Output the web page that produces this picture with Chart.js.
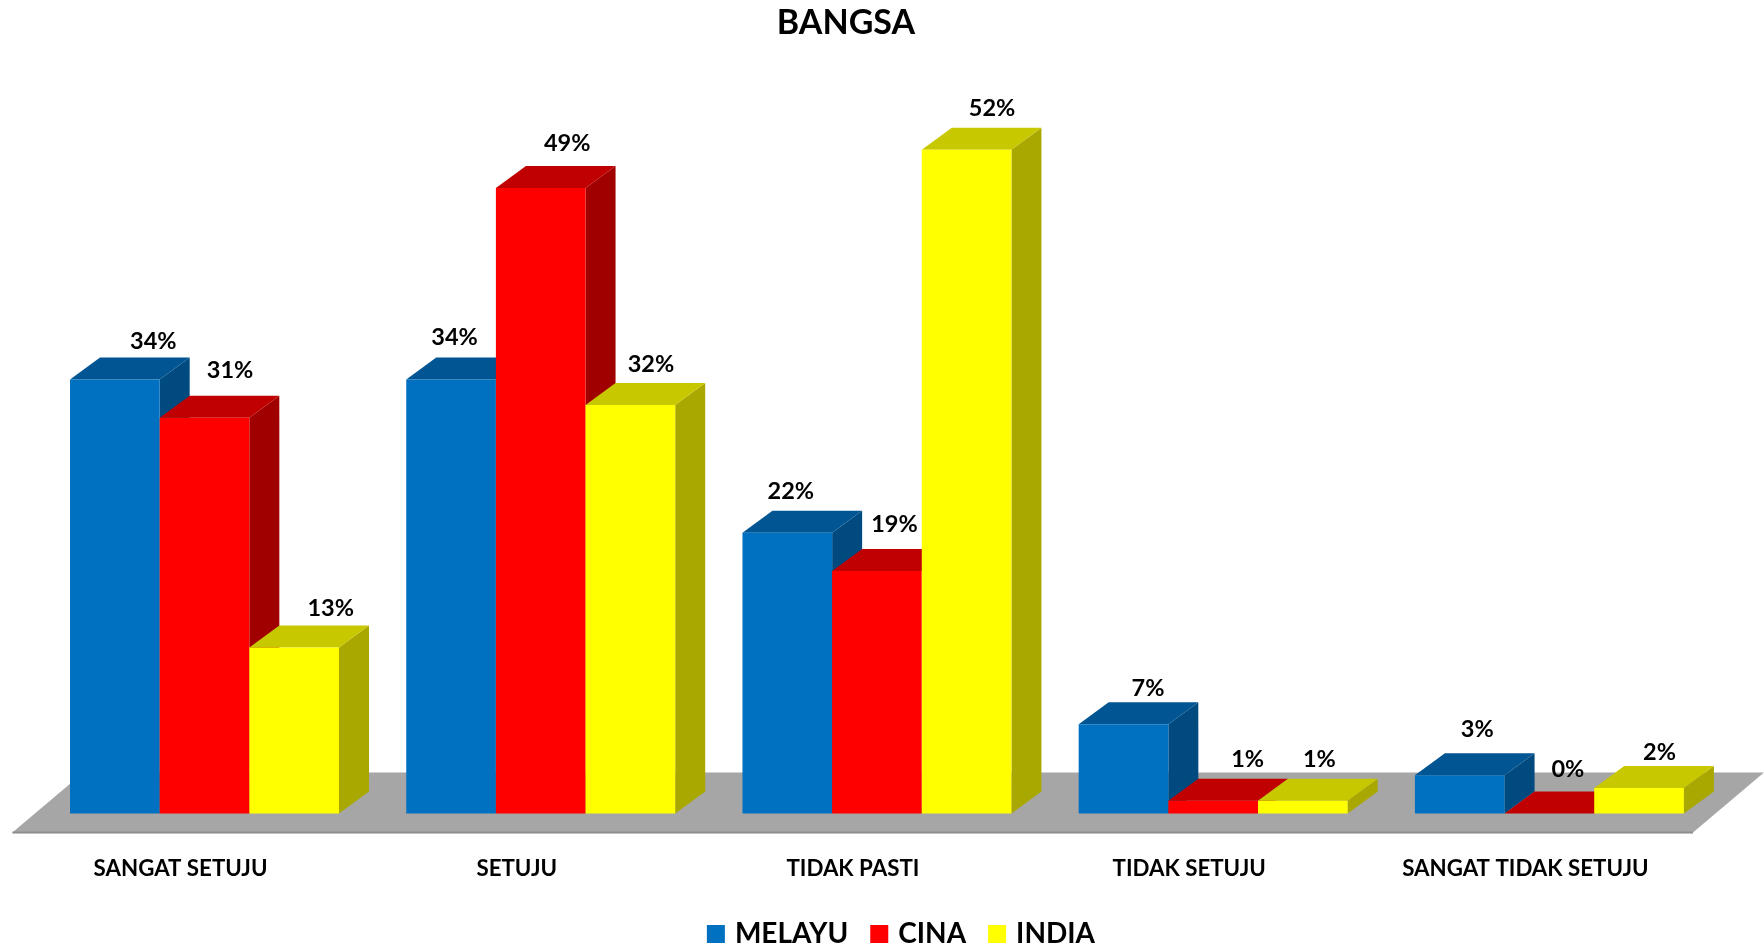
<!DOCTYPE html>
<html>
<head>
<meta charset="utf-8">
<style>
html,body{margin:0;padding:0;background:#fff}
#wrap{width:1764px;height:948px;position:relative}
</style>
<script src="https://cdn.jsdelivr.net/npm/chart.js@4"></script>
</head>
<body>
<div id="wrap"><canvas id="c" width="1764" height="948"></canvas></div>
<script>
const categories = ["SANGAT SETUJU", "SETUJU", "TIDAK PASTI", "TIDAK SETUJU", "SANGAT TIDAK SETUJU"];
const melayu = [34, 34, 22, 7, 3];
const cina = [31, 49, 19, 1, 0];
const india = [13, 32, 52, 1, 2];

const FONT = "Lato, 'Open Sans', sans-serif";
const DEPTH_X = 30, DEPTH_Y = 22;
const faces = [
  {front: "#0070C0", top: "#005592", side: "#004A80"},
  {front: "#FF0000", top: "#C00000", side: "#A00000"},
  {front: "#FFFF00", top: "#C8C800", side: "#A8A800"}
];
// Hand placement of the value labels relative to each bar's top centre [dx, dy], per series then category
const labelNudge = [
  [[38.5,-38],[3.5,-42],[3.5,-41],[24.5,-36],[17.5,-46]],
  [[25.5,-47],[26.5,-45],[17.5,-47],[34.5,-41],[18.5,-44]],
  [[36.5,-39],[20.5,-41],[25.5,-41],[16.5,-41],[20.5,-36]]
];

function poly(ctx, pts, fill){
  ctx.beginPath();
  pts.forEach((p,i)=> i ? ctx.lineTo(p[0],p[1]) : ctx.moveTo(p[0],p[1]));
  ctx.closePath();
  ctx.fillStyle = fill;
  ctx.fill();
}

const bars3d = {
  id: "bars3d",
  afterLayout(chart){
    chart.titleBlock.left -= 31; chart.titleBlock.right -= 31;
    chart.titleBlock.top += 1; chart.titleBlock.bottom += 1;
    chart.legend.left += 24; chart.legend.right += 24;
    chart.legend.top += 10; chart.legend.bottom += 10;
  },
  beforeDatasetsDraw(chart){
    const ctx = chart.ctx, a = chart.chartArea;
    const base = chart.scales.y.getPixelForValue(0);
    const fl = a.left - 24, fr = a.right - 24.5;
    ctx.save();
    poly(ctx, [[fl, base+19],[fr, base+19],[fr+71, base-41],[fl+71, base-41]], "#A6A6A6");
    ctx.fillStyle = "#8E8E8E";
    ctx.fillRect(fl, base+18, fr-fl, 2);
    ctx.restore();
    ctx.save();
    chart.data.datasets.forEach((ds, d)=>{
      const meta = chart.getDatasetMeta(d);
      meta.data.forEach((el)=>{
        const l = el.x - el.width/2, r = el.x + el.width/2, t = el.y, b = el.base;
        if (b - t > 0) poly(ctx, [[r,t],[r+DEPTH_X,t-DEPTH_Y],[r+DEPTH_X,b-DEPTH_Y],[r,b]], faces[d].side);
        poly(ctx, [[l,t],[l+DEPTH_X,t-DEPTH_Y],[r+DEPTH_X,t-DEPTH_Y],[r,t]], faces[d].top);
        el.draw(ctx, a);
      });
    });
    ctx.restore();
  },
  beforeDatasetDraw(){ return false; },
  afterDatasetsDraw(chart){
    const ctx = chart.ctx;
    ctx.save();
    ctx.font = "bold 23.5px " + FONT;
    ctx.fillStyle = "#000";
    ctx.textAlign = "center";
    ctx.textBaseline = "middle";
    chart.data.datasets.forEach((ds, d)=>{
      chart.getDatasetMeta(d).data.forEach((el,i)=>{
        const n = labelNudge[d][i];
        ctx.fillText(ds.data[i] + "%", el.x + n[0], el.y + n[1]);
      });
    });
    ctx.restore();
  },
  afterDraw(chart){
    // Legend swatches sit closer to their text than the library's fixed gap allows
    const ctx = chart.ctx;
    ctx.save();
    chart.legend.legendHitBoxes.forEach((hb, d)=>{
      ctx.fillStyle = faces[d].front;
      ctx.fillRect(hb.left, hb.top + hb.height/2 - 9, 18, 18);
    });
    ctx.restore();
  }
};

new Chart(document.getElementById("c"), {
  type: "bar",
  data: {
    labels: categories,
    datasets: [
      {label: "MELAYU", data: melayu, backgroundColor: faces[0].front},
      {label: "CINA", data: cina, backgroundColor: faces[1].front},
      {label: "INDIA", data: india, backgroundColor: faces[2].front}
    ]
  },
  options: {
    responsive: false,
    animation: false,
    layout: {padding: {left: 36.4, right: 46.5, top: 2, bottom: 0}},
    datasets: {bar: {categoryPercentage: 0.8, barPercentage: 1}},
    scales: {
      x: {
        grid: {display: false, drawTicks: false},
        border: {display: false},
        afterFit(s){ s.height -= 36.3; },
        ticks: {
          color: "#000",
          font: {family: FONT, size: 22.3, weight: "bold"},
          padding: 42,
          labelOffset: -24,
          maxRotation: 0,
          autoSkip: false
        }
      },
      y: {display: false, min: 0, max: 60}
    },
    plugins: {
      title: {
        display: true,
        text: "BANGSA",
        color: "#000",
        font: {family: FONT, size: 34, weight: "bold"},
        padding: {top: 0, bottom: 4.7}
      },
      legend: {
        position: "bottom",
        labels: {
          color: "#000",
          font: {family: FONT, size: 28, weight: "bold"},
          boxWidth: 14,
          boxHeight: 18,
          padding: 22,
          generateLabels(chart){
            return Chart.defaults.plugins.legend.labels.generateLabels(chart)
              .map(item => ({...item, fillStyle: "transparent", strokeStyle: "transparent", lineWidth: 0}));
          }
        }
      },
      tooltip: {enabled: false}
    }
  },
  plugins: [bars3d]
});
</script>
</body>
</html>
